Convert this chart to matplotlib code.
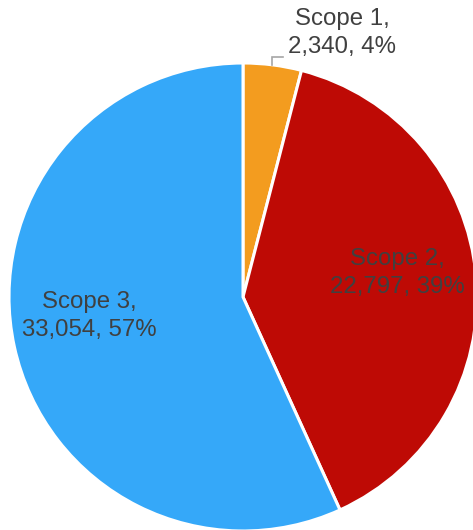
import matplotlib.pyplot as plt
import numpy as np

labels = ['Scope 1', 'Scope 2', 'Scope 3']
values = [2340, 22797, 33054]
colors = ['#F39C1F', '#BE0A05', '#35A8F9']

W, H = 473, 530
fig = plt.figure(figsize=(W / 100, H / 100), dpi=100)
ax = fig.add_axes([0, 0, 1, 1])

cx, cy, r = 243, H - 297, 234
wedges, _ = ax.pie(values, colors=colors, startangle=90, counterclock=False,
                   center=(cx, cy), radius=r,
                   wedgeprops=dict(edgecolor='white', linewidth=2.2))
ax.set_xlim(0, W)
ax.set_ylim(0, H)
ax.set_aspect('equal')
ax.axis('off')

total = sum(values)
txt = ['{},\n{:,}, {}%'.format(l, v, round(v / total * 100)) for l, v in zip(labels, values)]
font = dict(fontsize=17.3, color='#404040', family='Liberation Sans',
            ha='center', va='center', linespacing=1.3)

# Scope 1 label sits outside with a leader line
w = wedges[0]
mid = np.deg2rad((w.theta1 + w.theta2) / 2)
px, py = cx + r * np.cos(mid), cy + r * np.sin(mid)
ax.plot([px, px, px + 11], [py, py + 8, py + 8], color='#A6A6A6', lw=1.2,
        solid_joinstyle='miter', clip_on=False)
ax.text(342, H - 33, txt[0], **font)

ax.text(397, H - 273, txt[1], **font)
ax.text(89, H - 316, txt[2], **font)

fig.savefig('out.png', dpi=100)
